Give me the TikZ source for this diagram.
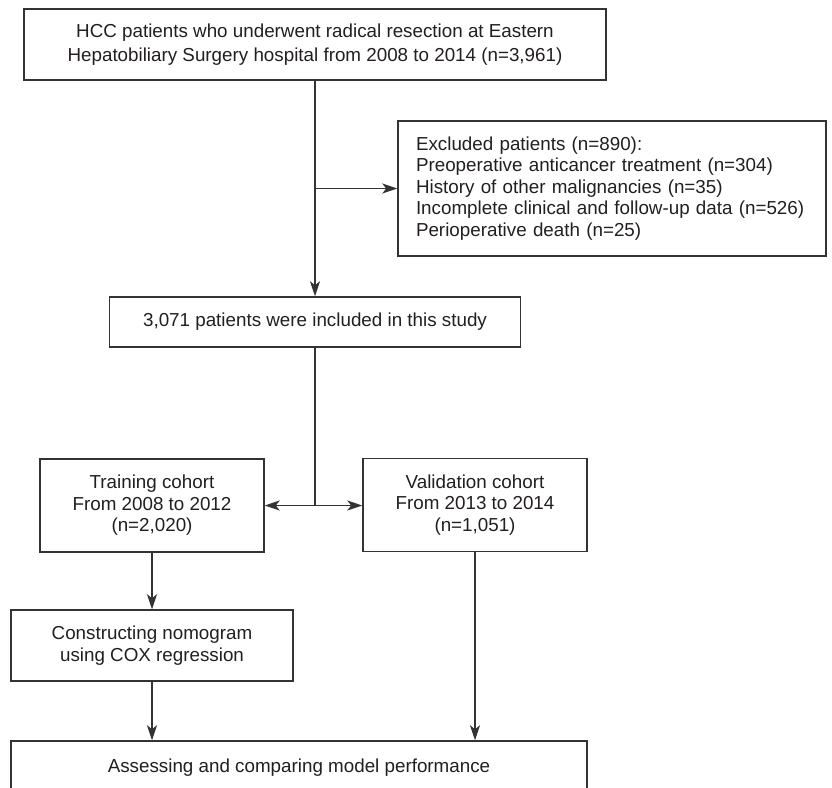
\documentclass[tikz,border=0pt]{standalone}
\usepackage{fontspec}
\setmainfont{Liberation Sans}
\usetikzlibrary{arrows.meta}
\definecolor{linegray}{HTML}{333333}
\definecolor{textblack}{HTML}{231F20}

\begin{document}
\begin{tikzpicture}[x=1pt, y=-1pt,
        box/.style={draw=linegray, line width=1.5pt, fill=white, inner sep=0pt, align=center,
            text=textblack, font=\fontsize{18.8}{21.5}\selectfont},
        arr/.style={draw=linegray, line width=1.5pt, -{Stealth[length=15pt, width=10pt, inset=4pt]}},
        link/.style={draw=linegray, line width=1.5pt}]
    \useasboundingbox (0,0) rectangle (832,787);
    \clip (0,0) rectangle (832,787);

    \node (top)[box, minimum width=582, minimum height=71] at (315, 44.5)
        {HCC patients who underwent radical resection at Eastern\\[2pt]
         Hepatobiliary Surgery hospital from 2008 to 2014 (n=3,961)};
    \node (excl)[box, align=left, text width=392, inner xsep=18, minimum height=135] at (612, 188.5)
        {Excluded patients (n=890):\\
         Preoperative anticancer treatment (n=304)\\
         History of other malignancies (n=35)\\
         Incomplete clinical and follow-up data (n=526)\\
         Perioperative death (n=25)};
    \node (incl)[box, minimum width=411, minimum height=50] at (315, 322)
        {3,071 patients were included in this study};
    \node (train)[box, minimum width=224, minimum height=93] at (152, 505.5)
        {Training cohort\\ From 2008 to 2012\\ (n=2,020)};
    \node (valid)[box, minimum width=224, minimum height=93] at (475, 505)
        {Validation cohort\\ From 2013 to 2014\\ (n=1,051)};
    \node (cons)[box, minimum width=282, minimum height=71] at (152, 645.5)
        {Constructing nomogram\\ using COX regression};
    \node (assess)[box, minimum width=576, minimum height=54] at (299, 768)
        {Assessing and comparing model performance};

    \coordinate (split) at (top.south |- excl.west);
    \coordinate (fork) at (incl.south |- train.east);

    \draw[arr] (top.south) -- (incl.north);
    \draw[arr] (split) -- (excl.west);
    \draw[link] (incl.south) -- (fork);
    \draw[arr] (fork) -- (train.east);
    \draw[arr] (fork) -- (fork -| valid.west);
    \draw[arr] (train.south) -- (cons.north);
    \draw[arr] (cons.south) -- (cons.south |- assess.north);
    \draw[arr] (valid.south) -- (valid.south |- assess.north);

\end{tikzpicture}
\end{document}
